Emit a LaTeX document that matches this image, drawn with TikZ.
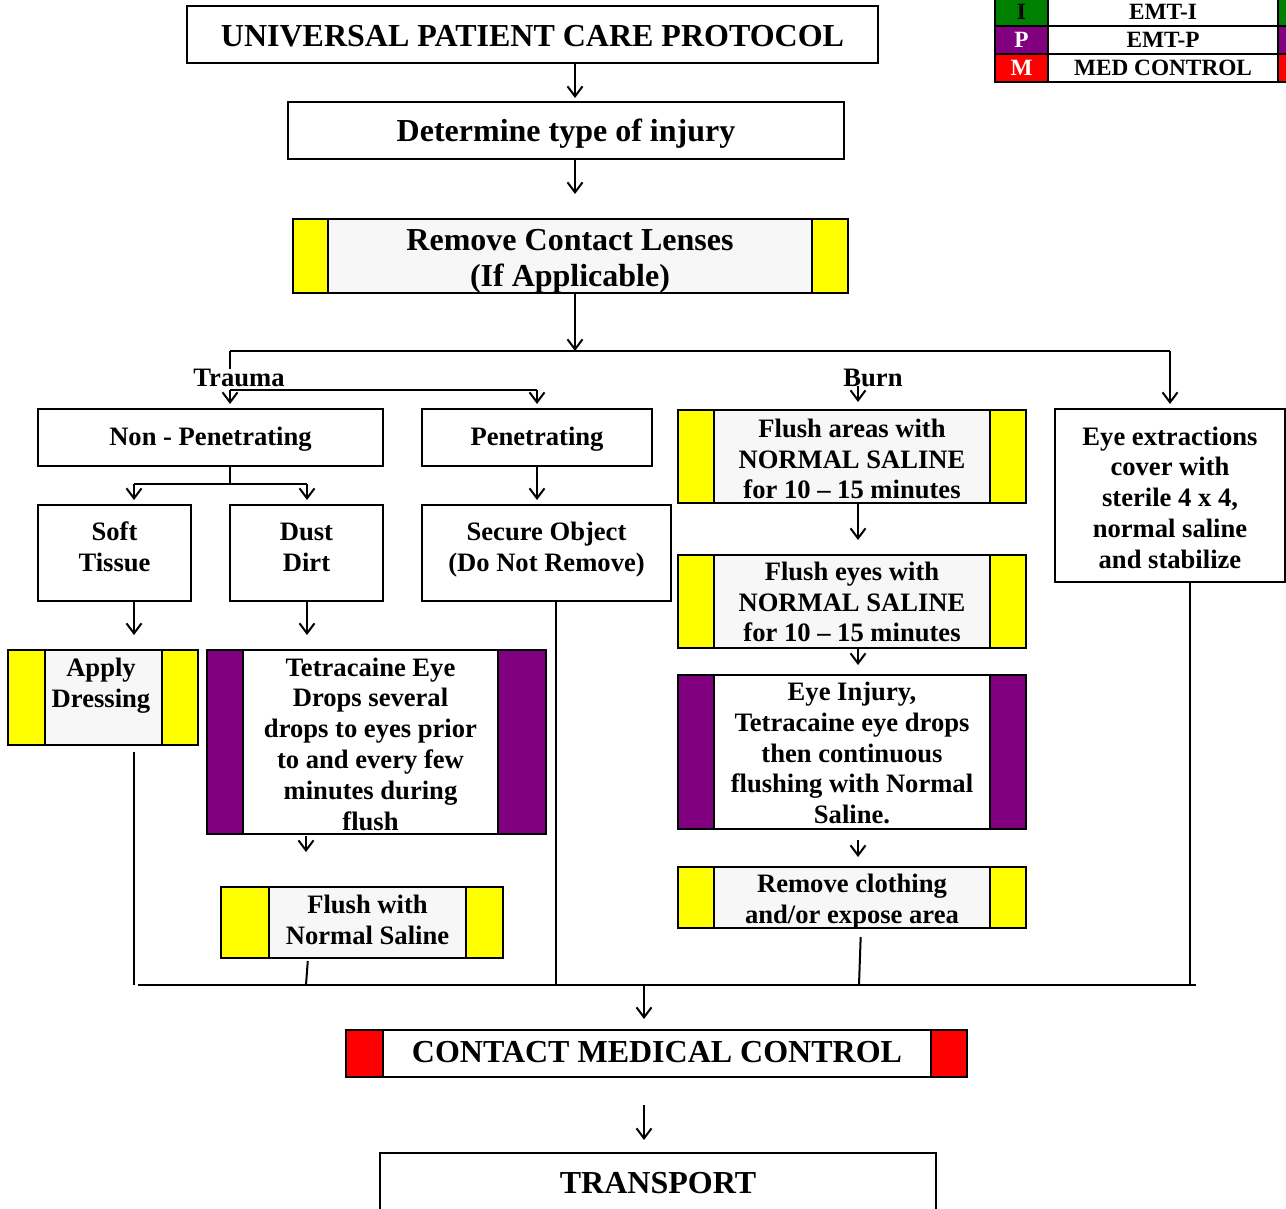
\documentclass[tikz,border=0pt]{standalone}
\usepackage{fontspec}
\setmainfont{Liberation Serif}
\usetikzlibrary{arrows.meta,calc}
\definecolor{ylw}{HTML}{FFFF00}
\definecolor{pur}{HTML}{800080}
\definecolor{rd}{HTML}{FF0000}
\definecolor{grn}{HTML}{008000}
\definecolor{lgray}{HTML}{F7F7F7}
\newcommand{\bigf}{\fontsize{32pt}{36pt}\selectfont\bfseries}
\newcommand{\bodyf}{\fontsize{26.6pt}{30.8pt}\selectfont\bfseries}
\newcommand{\legf}{\fontsize{23.3pt}{26pt}\selectfont\bfseries}
\newcommand{\sidestrips}[4]{%
  \filldraw[fill=#2, draw=black, line width=2pt] (#1.north west) rectangle ([xshift=-#3]#1.south west);
  \filldraw[fill=#2, draw=black, line width=2pt] (#1.north east) rectangle ([xshift=#4]#1.south east);}
\tikzset{
  box/.style={draw, line width=2pt, inner sep=0pt, outer sep=0pt, align=center, font=\bodyf, fill=white},
  sbox/.style={box, fill=lgray},
  txt/.style={inner sep=0pt, outer sep=0pt, align=center, font=\bodyf},
  conn/.style={line width=2pt},
  arr/.style={line width=2pt, -{Straight Barb[length=10pt,width=15pt]}},
  legc/.style={draw, line width=2pt, inner sep=0pt, outer sep=0pt, font=\legf, minimum height=28pt},
}
\begin{document}
\begin{tikzpicture}[x=1pt,y=-1pt]
\useasboundingbox (0,0) rectangle (1286,1209);
\fill[white] (0,0) rectangle (1286,1209);

% legend
\node[legc, fill=grn, minimum width=53pt] (lgI) at (1021.5,12) {I};
\node[legc, fill=white, minimum width=230pt] (lwI) at (1163,12) {EMT-I};
\node[legc, fill=grn, minimum width=22pt] (lsI) at (1289,12) {};
\node[legc, fill=pur, minimum width=53pt, text=white] (lgP) at (1021.5,40) {P};
\node[legc, fill=white, minimum width=230pt] (lwP) at (1163,40) {EMT-P};
\node[legc, fill=pur, minimum width=22pt] (lsP) at (1289,40) {};
\node[legc, fill=rd, minimum width=53pt, text=white] (lgM) at (1021.5,68) {M};
\node[legc, fill=white, minimum width=230pt] (lwM) at (1163,68) {MED CONTROL\hspace{22pt}};
\node[legc, fill=rd, minimum width=22pt] (lsM) at (1289,68) {};

% top boxes
\node[box, minimum width=691pt, minimum height=57pt, font=\bigf, text height=25pt, text depth=0pt] (upcp) at (532.5,34.5) {UNIVERSAL PATIENT CARE PROTOCOL};
\node[box, minimum width=556pt, minimum height=57pt, font=\bigf, text depth=0pt] (det) at (566,130.5) {Determine type of injury};
\node[sbox, minimum width=484pt, minimum height=74pt] (rcl) at (570,256) {};
\sidestrips{rcl}{ylw}{35pt}{36pt}
\node[txt, font=\bigf] (rclt) at (570,261) {Remove Contact Lenses\\(If Applicable)};

% labels
\node[txt] (trauma) at (239,378) {Trauma};
\node[txt] (burn) at (873,378) {Burn};

% trauma branch
\node[box, minimum width=345pt, minimum height=57pt, text depth=0pt, text height=16pt] (nonpen) at (210.5,437.5) {Non - Penetrating};
\node[box, minimum width=230pt, minimum height=57pt, text depth=0pt, text height=16pt] (pen) at (537,437.5) {Penetrating};
\node[box, minimum width=153pt, minimum height=96pt] (soft) at (114.5,553) {};
\node[txt] (softt) at (114.5,547) {Soft\\Tissue};
\node[box, minimum width=153pt, minimum height=96pt] (dust) at (306.5,553) {};
\node[txt] (dustt) at (306.5,547.5) {Dust\\Dirt};
\node[box, minimum width=249pt, minimum height=96pt] (secure) at (546.5,553) {};
\node[txt] (securet) at (546.5,550) {Secure Object\\(Do Not Remove)};

\node[sbox, minimum width=117pt, minimum height=95pt] (apply) at (103.5,697.5) {};
\sidestrips{apply}{ylw}{37pt}{36pt}
\node[txt] (applyt) at (101,698) {Apply\\Dressing\\~};
\node[box, minimum width=255pt, minimum height=184pt] (tetra) at (370.5,742) {};
\sidestrips{tetra}{pur}{36pt}{48pt}
\node[txt] (tetrat) at (370.5,744) {Tetracaine Eye\\Drops several\\drops to eyes prior\\to and every few\\minutes during\\flush};
\node[sbox, minimum width=197pt, minimum height=71pt] (flushns) at (367.5,922.5) {};
\sidestrips{flushns}{ylw}{48pt}{37pt}
\node[txt] (flushnst) at (367.5,920) {Flush with\\Normal Saline};

% burn branch
\node[sbox, minimum width=276pt, minimum height=93pt] (fa) at (852,456.5) {};
\sidestrips{fa}{ylw}{36pt}{36pt}
\node[txt] (fat) at (852,459) {Flush areas with\\NORMAL SALINE\\for 10 -- 15 minutes};
\node[sbox, minimum width=276pt, minimum height=93pt] (fe) at (852,601.5) {};
\sidestrips{fe}{ylw}{36pt}{36pt}
\node[txt] (fet) at (852,602) {Flush eyes with\\NORMAL SALINE\\for 10 -- 15 minutes};
\node[box, minimum width=276pt, minimum height=154pt] (ei) at (852,752) {};
\sidestrips{ei}{pur}{36pt}{36pt}
\node[txt] (eit) at (852,753) {Eye Injury,\\Tetracaine eye drops\\then continuous\\flushing with Normal\\Saline.};
\node[sbox, minimum width=276pt, minimum height=61pt] (rc) at (852,897.5) {};
\sidestrips{rc}{ylw}{36pt}{36pt}
\node[txt] (rct) at (852,901.5) {Remove clothing\\and/or expose area};

% eye extractions
\node[box, minimum width=230pt, minimum height=173pt] (eyex) at (1170,495.5) {};
\node[txt] (eyext) at (1170,497.5) {Eye extractions\\cover with\\sterile 4 x 4,\\normal saline\\and stabilize};

% bottom
\node[box, minimum width=548pt, minimum height=47pt, font=\bigf, text depth=4pt] (cmc) at (657,1053.5) {CONTACT MEDICAL CONTROL};
\sidestrips{cmc}{rd}{37pt}{36pt}
\node[box, minimum width=556pt, minimum height=60pt, font=\bigf] (transport) at (658,1183) {TRANSPORT};

% coordinates
\coordinate (c1) at (575,194);
\coordinate (split) at (575,351);
\coordinate (tl) at (230,351);
\coordinate (tr) at (1170,351);
\coordinate (tb) at (230,390);
\coordinate (pb) at (537,390);
\coordinate (nb) at (230,484);
\coordinate (nbl) at (134,484);
\coordinate (nbr) at (307,484);
\coordinate (burnarr) at (858,386);
\coordinate (bl) at (138,985);
\coordinate (br) at (1196,985);
\coordinate (bm) at (644,985);

% connectors
\draw[arr, shorten >=4pt] (upcp.south -| 575,0) -- (det.north -| 575,0);
\draw[arr] (det.south -| 575,0) -- (c1);
\draw[arr] (rcl.south -| 575,0) -- (split);
\draw[conn] (tl) -- (tr);
\draw[conn] (tl) -- (trauma.north -| tl);
\draw[conn] (tb) -- (pb);
\draw[arr, shorten >=5pt] (tb) -- (nonpen.north -| tb);
\draw[arr, shorten >=5pt] (pb) -- (pen.north -| pb);
\draw[arr, shorten >=5pt] (tr) -- (eyex.north -| tr);
\draw[arr, shorten >=8pt] (burnarr) -- (fa.north -| burnarr);

\draw[conn] (nonpen.south -| nb) -- (nb);
\draw[conn] (nbl) -- (nbr);
\draw[arr, shorten >=5pt] (nbl) -- (soft.north -| nbl);
\draw[arr, shorten >=5pt] (nbr) -- (dust.north -| nbr);
\draw[arr, shorten >=5pt] (pen.south -| pb) -- (secure.north -| pb);
\draw[arr, shorten >=15pt] (soft.south -| nbl) -- (apply.north -| nbl);
\draw[arr, shorten >=15pt] (dust.south -| nbr) -- (tetra.north -| nbr);
\draw[conn] (secure.south -| 556,0) -- (556,985);
\draw[conn, shorten <=7pt] (apply.south -| 134,0) -- (134,985);
\draw[arr, shorten <=2pt, shorten >=35pt] (tetra.south -| 306,0) -- (flushns.north -| 306,0);
\draw[conn, shorten <=3pt] (flushns.south -| 308,0) -- (306,985);

\draw[arr, shorten >=15pt] (fa.south -| 858,0) -- (fe.north -| 858,0);
\draw[arr, shorten >=10pt] (fe.south -| 858,0) -- (ei.north -| 858,0);
\draw[arr, shorten <=11pt, shorten >=10pt] (ei.south -| 858,0) -- (rc.north -| 858,0);
\draw[conn, shorten <=9pt] (rc.south -| 861,0) -- (859,985);
\draw[conn] (eyex.south -| 1190,0) -- (1190,985);

\draw[conn] (bl) -- (br);
\draw[arr, shorten >=11pt] (bm) -- (cmc.north -| bm);
\draw[arr, shorten <=28pt, shorten >=13pt] (cmc.south -| bm) -- (transport.north -| bm);
\end{tikzpicture}
\end{document}
